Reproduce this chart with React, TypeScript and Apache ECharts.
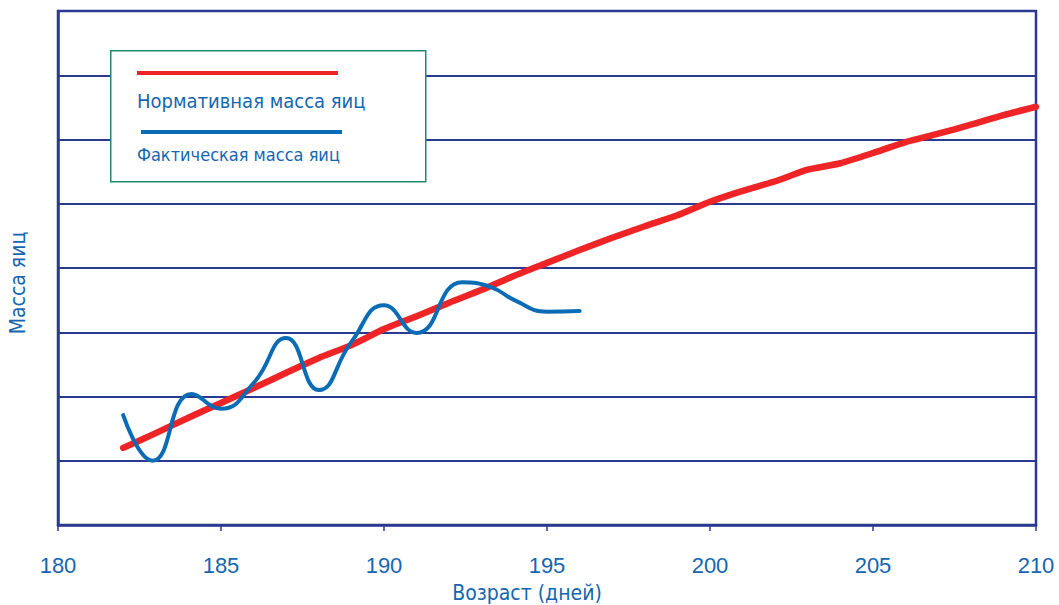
import React, { useEffect, useRef } from "react";
import * as echarts from "echarts";

const days = [182, 183, 184, 185, 186, 187, 188, 189, 190, 191, 192, 193, 194, 195, 196, 197, 198, 199, 200, 201, 202, 203, 204, 205, 206, 207, 208, 209, 210];
const normValues = [1.2, 1.43, 1.67, 1.9, 2.13, 2.37, 2.6, 2.8, 3.05, 3.25, 3.46, 3.66, 3.88, 4.08, 4.28, 4.47, 4.65, 4.82, 5.03, 5.2, 5.35, 5.53, 5.63, 5.79, 5.96, 6.09, 6.23, 6.38, 6.51];
const factDays = [182, 182.9, 184.1, 185, 186, 187, 188, 189, 190, 191, 192.4, 193.3, 194, 195, 196];
const factValues = [1.71, 1.0, 2.04, 1.81, 2.21, 2.91, 2.1, 2.85, 3.42, 2.99, 3.78, 3.7, 3.5, 3.32, 3.33];

const xName = "Возраст (дней)";
const yName = "Масса яиц";
const normName = "Нормативная масса яиц";
const factName = "Фактическая масса яиц";

const NAVY = "#2B3990";
const TEXT = "#1466B0";
const RED = "#EE2427";
const BLUE = "#0A6CB5";
const FONT = "'DejaVu Sans Condensed', 'Liberation Sans Narrow', 'Open Sans', sans-serif";
const NUMFONT = "'Liberation Sans', Arial, sans-serif";

export default function App() {
  const ref = useRef<HTMLDivElement>(null);
  useEffect(() => {
    if (!ref.current) return;
    const chart = echarts.init(ref.current, undefined, { renderer: "svg" });
    chart.setOption({
      animation: false,
      backgroundColor: "#ffffff",
      grid: {
        left: 58,
        right: 23,
        top: 11,
        bottom: 80,
        show: true,
        borderColor: NAVY,
        borderWidth: 2.5,
        backgroundColor: "transparent",
      },
      xAxis: {
        type: "value",
        min: 180,
        max: 210,
        interval: 5,
        axisLine: { show: true, lineStyle: { color: NAVY, width: 2.5 } },
        axisTick: { show: true, length: 6, lineStyle: { color: NAVY, width: 1.5 } },
        axisLabel: { color: TEXT, fontSize: 22, fontFamily: NUMFONT, margin: 29 },
        splitLine: { show: false },
      },
      yAxis: {
        type: "value",
        min: 0,
        max: 8,
        interval: 1,
        axisLine: { show: true, lineStyle: { color: NAVY, width: 2.5 } },
        axisTick: { show: false },
        axisLabel: { show: false },
        splitLine: { show: true, lineStyle: { color: NAVY, width: 2 } },
      },
      series: [
        {
          name: normName,
          type: "line",
          data: days.map((d, i) => [d, normValues[i]]),
          showSymbol: false,
          smooth: 0.2,
          lineStyle: { color: RED, width: 6.5, cap: "round", join: "round" },
          z: 3,
        },
        {
          name: factName,
          type: "line",
          data: factDays.map((d, i) => [d, factValues[i]]),
          showSymbol: false,
          smooth: 0.5,
          lineStyle: { color: BLUE, width: 4, cap: "round" },
          z: 4,
        },
      ],
      graphic: [
        {
          type: "text",
          x: 18,
          y: 283,
          rotation: Math.PI / 2,
          z: 50,
          style: {
            text: yName,
            fill: TEXT,
            fontSize: 21,
            fontFamily: FONT,
            align: "center",
            verticalAlign: "middle",
          },
        },
        {
          type: "text",
          x: 527,
          y: 593,
          z: 50,
          style: {
            text: xName,
            fill: TEXT,
            fontSize: 21,
            fontFamily: FONT,
            align: "center",
            verticalAlign: "middle",
          },
        },
        {
          type: "rect",
          left: 110,
          top: 50,
          z: 100,
          shape: { width: 315, height: 131 },
          style: { fill: "#ffffff", stroke: "#1E8A6E", lineWidth: 1.5 },
        },
        {
          type: "line",
          z: 101,
          shape: { x1: 137, y1: 73, x2: 338, y2: 73 },
          style: { stroke: RED, lineWidth: 4 },
        },
        {
          type: "text",
          x: 137,
          y: 101,
          z: 101,
          style: { text: normName, fill: TEXT, fontSize: 20, fontFamily: FONT, verticalAlign: "middle" },
        },
        {
          type: "line",
          z: 101,
          shape: { x1: 141, y1: 132, x2: 342, y2: 132 },
          style: { stroke: BLUE, lineWidth: 4 },
        },
        {
          type: "text",
          x: 137,
          y: 154,
          z: 101,
          style: { text: factName, fill: TEXT, fontSize: 18, fontFamily: FONT, verticalAlign: "middle" },
        },
      ],
    });
    return () => chart.dispose();
  }, []);
  return (
    <div
      ref={ref}
      style={{ position: "fixed", left: 0, top: 0, width: 1059, height: 605 }}
    />
  );
}
